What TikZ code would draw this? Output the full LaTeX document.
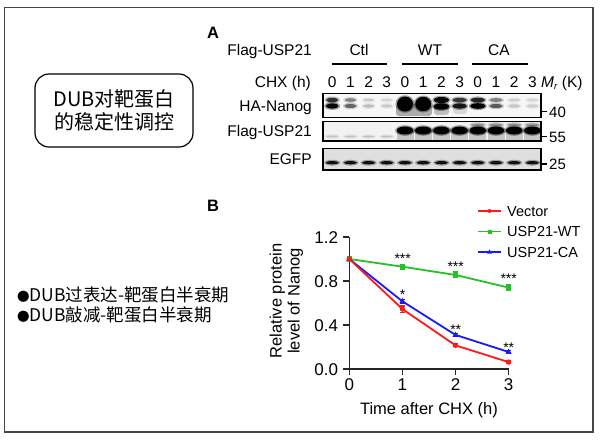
\documentclass[tikz,border=0pt]{standalone}
\usepackage{fontspec}
\setmainfont{Liberation Sans}
\newfontfamily\cjkfont{Noto Sans CJK SC}
\usetikzlibrary{calc}
\newcommand{\setfs}[1]{\fontsize{#1}{#1}\selectfont}
\definecolor{cred}{RGB}{255,25,25}
\definecolor{cgreen}{RGB}{35,195,35}
\definecolor{cblue}{RGB}{25,25,255}
\definecolor{frameg}{RGB}{70,70,70}
\newcommand{\blotband}[5]{%
  \pgfmathsetmacro\bbsoft{#5*0.35}%
  \fill[black,opacity=\bbsoft] (#1,#2) ellipse [x radius=#3+1.6, y radius=#4+1.3];
  \fill[black,opacity=#5] (#1,#2) ellipse [x radius=#3, y radius=#4];}
\newcommand{\smallbullet}{{\fontsize{12.5}{12.5}\selectfont ●}}
\begin{document}
\begin{tikzpicture}[x=1pt,y=-1pt,
  txt/.style={inner sep=0pt, font=\setfs{15.5}},
  mwlbl/.style={inner sep=0pt, font=\setfs{15}, anchor=base west},
  blotbox/.style={draw=black, line width=1.4pt},
  axisline/.style={line width=1.6pt, draw=black!85},
  series/.style={line width=1.8pt},
  errbar/.style={line width=1.2pt},
  ticklbl/.style={inner sep=0pt, font=\setfs{17}},
  legtxt/.style={inner sep=0pt, font=\setfs{14.5}, anchor=base west},
  starlbl/.style={inner sep=0pt, font=\setfs{14}, anchor=base},
  panel/.style={inner sep=0pt, font=\setfs{16.5}\bfseries, anchor=base west},
  grpline/.style={line width=1.2pt},
  bullettxt/.style={anchor=base west, inner sep=0pt, font=\cjkfont\setfs{17.5}},
]
\useasboundingbox (0,0) rectangle (600,440);
\fill[white] (0,0) rectangle (600,440);
\draw[frameg, line width=1.5pt] (4.5,7.5) rectangle (593,432);

% ---- left side texts
\node[draw, line width=1.2pt, rounded corners=14pt, minimum width=158pt, minimum height=73pt,
      align=center, inner sep=0pt, font=\cjkfont\fontsize{20}{23.5}\selectfont] (topic) at (114,110.5)
      {DUB对靶蛋白\\的稳定性调控};
\node[bullettxt] (bul1) at (17,301) {\smallbullet DUB过表达-靶蛋白半衰期};
\node[bullettxt] (bul2) at (17,321) {\smallbullet DUB敲减-靶蛋白半衰期};

% ---- panel A
\node[panel] (pA) at (207,38.3) {A};
\node[txt, anchor=base east] (hflag) at (312,55.6) {Flag-USP21};
\node[txt, anchor=base] (gctl) at (359,55.6) {Ctl};
\node[txt, anchor=base] (gwt) at (430,55.6) {WT};
\node[txt, anchor=base] (gca) at (499,55.6) {CA};
\draw[grpline] (332,64) -- (387,64);
\draw[grpline] (402,64) -- (458,64);
\draw[grpline] (472,64) -- (528,64);
\node[txt, anchor=base east] (hchx) at (311,87.5) {CHX (h)};
\foreach \k in {0,...,11} {
  \pgfmathsetmacro\lanex{332.2+18.2*\k}
  \pgfmathtruncatemacro\hr{mod(\k,4)}
  \node[txt, anchor=base] (tm\k) at (\lanex,87.5) {\hr};
}
\node[txt, anchor=base west] (mr) at (541,87.5) {\textit{M}\raisebox{-0.3ex}{\setfs{9.5}\textit{r}} (K)};
\node[txt, anchor=base east] (rl1) at (312,111) {HA-Nanog};
\node[txt, anchor=base east] (rl2) at (312,136.6) {Flag-USP21};
\node[txt, anchor=base east] (rl3) at (312,164.6) {EGFP};

% blot 1 : HA-Nanog
\fill[gray!6] (323,93.5) rectangle (541,117.5);
\begin{scope}
\clip (323,93.5) rectangle (541,117.5);
\blotband{332.2}{100}{6}{2.2}{0.75}
\blotband{332.2}{106}{6.5}{2.6}{0.95}
\blotband{350.4}{100}{5.5}{1.8}{0.4}
\blotband{350.4}{106}{6}{2}{0.5}
\blotband{368.6}{100}{5.5}{1.5}{0.14}
\blotband{368.6}{106}{5.5}{1.7}{0.18}
\blotband{386.8}{100}{5.5}{1.5}{0.1}
\blotband{386.8}{106}{5.5}{1.7}{0.14}
\fill[black,opacity=0.3,rounded corners=3pt] (396,104) rectangle (432,116);
\blotband{405}{104}{8}{7.5}{1}
\blotband{423.2}{104}{8}{7.2}{1}
\fill[black,opacity=0.22,rounded corners=3pt] (434,104) rectangle (449,115);
\blotband{441.4}{100}{7.5}{3}{0.95}
\blotband{441.4}{106.5}{7.8}{3.2}{1}
\fill[black,opacity=0.12,rounded corners=3pt] (453,104) rectangle (467,114);
\blotband{459.6}{100}{7}{2.2}{0.7}
\blotband{459.6}{106}{7}{2.6}{0.85}
\blotband{477.8}{100}{7}{2.3}{0.8}
\blotband{477.8}{106}{7.5}{2.8}{1}
\blotband{496}{100}{6.5}{1.8}{0.4}
\blotband{496}{106}{6.5}{2}{0.55}
\blotband{514.2}{100}{6}{1.5}{0.12}
\blotband{514.2}{106}{6}{1.7}{0.15}
\blotband{532.4}{100}{6}{1.5}{0.1}
\blotband{532.4}{106}{6}{1.7}{0.12}
\end{scope}
\draw[blotbox] (323,93.5) rectangle (541,117.5);

% blot 2 : Flag-USP21
\fill[gray!10] (323,121.5) rectangle (541,141);
\begin{scope}
\clip (323,121.5) rectangle (541,141);
\foreach \x in {332.2,350.4,368.6,386.8} {\blotband{\x}{136.5}{6}{1}{0.15}}
\foreach \x in {405,423.2,441.4,459.6,477.8,496,514.2,532.4} {
  \fill[black,opacity=0.18] (\x-8.5,131) rectangle (\x+8.5,140);
  \blotband{\x}{130.5}{8.3}{4}{1}
}
\foreach \x in {477.8,496,514.2,532.4} {\blotband{\x}{124.8}{7}{1.4}{0.3}}
\end{scope}
\draw[blotbox] (323,121.5) rectangle (541,141);

% blot 3 : EGFP
\fill[gray!25] (323,148.5) rectangle (541,170);
\begin{scope}
\clip (323,148.5) rectangle (541,170);
\foreach \k in {0,...,11} {
  \pgfmathsetmacro\lanex{332.2+18.2*\k}
  \blotband{\lanex}{162.7}{6.5}{1.6}{0.9}
}
\end{scope}
\draw[blotbox] (323,148.5) rectangle (541,170);

% MW markers
\draw[grpline] (541,111.7) -- (547,111.7);
\node[mwlbl] (mw40) at (549,117.2) {40};
\draw[grpline] (541,136.7) -- (547,136.7);
\node[mwlbl] (mw55) at (549,142.2) {55};
\draw[grpline] (541,164) -- (547,164);
\node[mwlbl] (mw25) at (549,169.5) {25};

% ---- panel B
\node[panel] (pB) at (207,211.7) {B};

\begin{scope}[shift={(349.3pt,-369pt)}, x=53.1pt, y=110pt]
  \draw[axisline] (0,1.2) -- (0,0) -- (3,0);
  \foreach \v/\lab [count=\i] in {0/0.0,0.4/0.4,0.8/0.8,1.2/1.2} {
    \draw[axisline] (0,\v) -- ++(-6pt,0);
    \node[ticklbl, anchor=base east] (yt\i) at ([xshift=-11pt,yshift=-6.1pt]0,\v) {\lab};
  }
  \foreach \t in {0,1,2,3} {
    \draw[axisline] (\t,0) -- ++(0,-6pt);
    \node[ticklbl, anchor=base] (xt\t) at ([yshift=-21pt]\t,0) {\t};
  }
  \node[inner sep=0pt, font=\setfs{16.5}, anchor=base] (xtitle) at ([yshift=-45pt]1.5,0) {Time after CHX (h)};

  % data points
  \foreach \t/\v [count=\i] in {0/1.0,1/0.545,2/0.215,3/0.063} {\coordinate (r\i) at (\t,\v);}
  \foreach \t/\v [count=\i] in {0/1.0,1/0.93,2/0.855,3/0.74} {\coordinate (g\i) at (\t,\v);}
  \foreach \t/\v [count=\i] in {0/1.0,1/0.615,2/0.31,3/0.155} {\coordinate (b\i) at (\t,\v);}

  % error bars
  \foreach \t/\v/\e in {1/0.545/0.028,2/0.215/0.014,3/0.063/0.012} {
    \draw[cred,errbar] (\t,\v-\e) -- (\t,\v+\e);
    \draw[cred,errbar] ([xshift=-2.5pt]\t,\v-\e) -- ([xshift=2.5pt]\t,\v-\e);
    \draw[cred,errbar] ([xshift=-2.5pt]\t,\v+\e) -- ([xshift=2.5pt]\t,\v+\e);
  }
  \foreach \t/\v/\e in {1/0.93/0.022,2/0.855/0.026,3/0.74/0.028} {
    \draw[cgreen,errbar] (\t,\v-\e) -- (\t,\v+\e);
    \draw[cgreen,errbar] ([xshift=-2.5pt]\t,\v-\e) -- ([xshift=2.5pt]\t,\v-\e);
    \draw[cgreen,errbar] ([xshift=-2.5pt]\t,\v+\e) -- ([xshift=2.5pt]\t,\v+\e);
  }
  \foreach \t/\v/\e in {1/0.615/0.015,2/0.31/0.016,3/0.155/0.01} {
    \draw[cblue,errbar] (\t,\v-\e) -- (\t,\v+\e);
    \draw[cblue,errbar] ([xshift=-2.5pt]\t,\v-\e) -- ([xshift=2.5pt]\t,\v-\e);
    \draw[cblue,errbar] ([xshift=-2.5pt]\t,\v+\e) -- ([xshift=2.5pt]\t,\v+\e);
  }

  % series lines
  \draw[cgreen,series] (g1) -- (g2) -- (g3) -- (g4);
  \draw[cblue,series] (b1) -- (b2) -- (b3) -- (b4);
  \draw[cred,series] (r1) -- (r2) -- (r3) -- (r4);

  % markers
  \foreach \i in {1,...,4} {
    \fill[cgreen] ([shift={(-2.6pt,-2.6pt)}]g\i) rectangle ([shift={(2.6pt,2.6pt)}]g\i);
    \fill[cblue] ([yshift=3.4pt]b\i) -- ([shift={(-3.1pt,-2pt)}]b\i) -- ([shift={(3.1pt,-2pt)}]b\i) -- cycle;
    \fill[cred] (r\i) circle [radius=2.7pt];
  }
\end{scope}

% y axis title
\node[inner sep=0pt, font=\setfs{16.5}, rotate=90, anchor=base] (ytitle1) at (281.5,301) {Relative protein};
\node[inner sep=0pt, font=\setfs{16.5}, rotate=90, anchor=base] (ytitle2) at (299.5,301) {level of Nanog};

% significance stars
\node[starlbl] (s1) at (402.7,263) {***};
\node[starlbl] (s2) at (455.7,271.3) {***};
\node[starlbl] (s3) at (508.7,283) {***};
\node[starlbl] (s4) at (402.7,299) {*};
\node[starlbl] (s5) at (455.7,334) {**};
\node[starlbl] (s6) at (508.7,352) {**};

% legend
\coordinate (lva) at (478,211);  \coordinate (lvb) at (501,211);
\coordinate (lwa) at (478,231.5); \coordinate (lwb) at (501,231.5);
\coordinate (lca) at (478,252);  \coordinate (lcb) at (501,252);
\coordinate (lvm) at ($(lva)!0.5!(lvb)$);
\coordinate (lwm) at ($(lwa)!0.5!(lwb)$);
\coordinate (lcm) at ($(lca)!0.5!(lcb)$);
\draw[cred,series] (lva) -- (lvb);
\draw[cgreen,series] (lwa) -- (lwb);
\draw[cblue,series] (lca) -- (lcb);
\fill[cred] (lvm) circle [radius=2pt];
\fill[cgreen] ([shift={(-2pt,-2pt)}]lwm) rectangle ([shift={(2pt,2pt)}]lwm);
\fill[cblue] ([yshift=2.6pt]lcm) -- ([shift={(-2.4pt,-1.6pt)}]lcm) -- ([shift={(2.4pt,-1.6pt)}]lcm) -- cycle;
\node[legtxt] (legv) at (507,216.2) {Vector};
\node[legtxt] (legw) at (507,236.7) {USP21-WT};
\node[legtxt] (legc) at (507,257.2) {USP21-CA};
\end{tikzpicture}
\end{document}
